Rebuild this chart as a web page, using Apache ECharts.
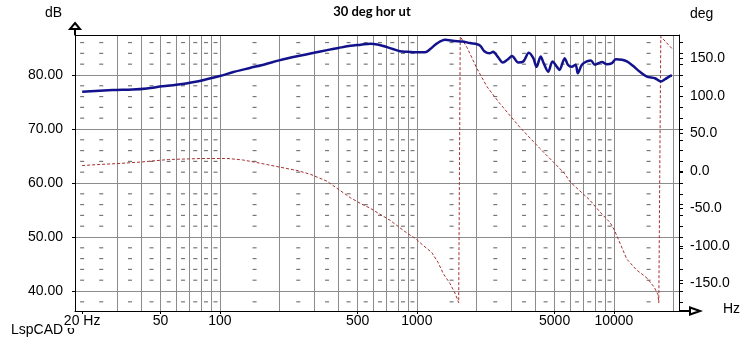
<!DOCTYPE html>
<html><head><meta charset="utf-8">
<script src="https://cdn.jsdelivr.net/npm/echarts@6/dist/echarts.min.js"></script>
<style>html,body{margin:0;padding:0;background:#fff}#c{width:751px;height:346px}</style>
</head><body><div id="c"></div>
<script>
// ---- data ----
const splFreq = [20,28.6,36,42.6,51,63,79,100,116,142,170,200,250,300,350,400,460,520,580,640,700,755,820,900,1000,1100,1170,1260,1390,1550,1700,1860,2020,2100,2200,2340,2440,2570,2730,2900,3040,3270,3470,3700,3900,4050,4250,4400,4640,4880,5140,5290,5630,5840,6100,6390,6560,6880,7290,7640,8010,8690,9210,9770,10240,10990,11640,12480,13550,14710,16150,17320,18160,19240,19700];
const splDb   = [76.9,77.2,77.3,77.5,77.9,78.3,78.9,79.8,80.5,81.3,82.0,82.7,83.5,84.1,84.6,85.0,85.4,85.6,85.8,85.6,85.2,84.8,84.4,84.3,84.2,84.2,84.8,85.8,86.5,86.3,86.2,85.9,85.7,85.4,84.4,84.0,84.3,83.4,82.3,82.9,83.5,82.3,82.5,84.1,83.1,81.5,83.4,82.2,80.6,82.5,81.5,80.9,83.1,81.9,81.5,81.9,80.3,81.9,82.5,82.7,81.9,82.4,82.0,82.2,82.9,82.8,82.5,81.7,80.6,79.7,79.4,78.8,79.2,79.8,79.9];
const phaseFreq = [20,25,30,40,55,80,110,130,150,200,250,290,350,406,460,520,580,650,730,820,900,980,1070,1190,1280,1360,1470,1560,1630,1660,1800,2020,2270,2630,2960,3330,4200,5000,5630,6000,7540,8500,9560,10050,11640,13000,14710,16000,16730,16900,17300,17600,19700];
const phaseDeg  = [7,8.5,9.5,11.7,15,16.3,16.3,14.5,11.5,5,0,-5,-14,-26,-36,-44,-50,-58,-66,-76,-84,-90,-99,-109,-122,-137,-150,-163,-176,179,164,136,112,90,74,58,30,10,-4,-15,-39,-55,-69,-79,-118,-132,-143,-155,-165,-176,179,177,163];
const dbTicks = [40,50,60,70,80];
const degTicks = [-150,-100,-50,0,50,100,150];
const freqLabels = [20,50,100,500,1000,5000,10000];
const freqGrid = [30,40,50,60,70,80,90,100,200,300,400,500,600,700,800,900,1000,2000,3000,4000,5000,6000,7000,8000,9000,10000,20000];
const freqMinor = [20,25,35,45,55,65,75,85,95,150,250,350,450,550,650,750,850,950,1500,2500,3500,4500,5500,6500,7500,8500,9500,15000];
const dbMinor = [38,42,44,46,48,52,54,56,58,62,64,66,68,72,74,76,78,82,84,86];
const dbRightTicks = [38,40,42,44,46,48,50,52,54,56,58,60,62,64,66,68,70,72,74,76,78,80,82,84,86];

const F_MIN = 18.4, F_MAX = 21400, DB_MIN = 36.3, DB_MAX = 87.4, DEG_MIN = -187, DEG_MAX = 181;

const lg = Math.log10;
const splData = splFreq.map((f, i) => [f, splDb[i]]);
const phaseData = phaseFreq.map((f, i) => [f, phaseDeg[i]]);
const minorData = [];
freqMinor.forEach(f => dbMinor.forEach(d => minorData.push([f, d])));

const gridColor = '#8c8c8c';
const font = 'Liberation Sans';

const chart = echarts.init(document.getElementById('c'), null, {renderer: 'canvas'});
chart.setOption({
  animation: false,
  backgroundColor: '#fff',
  grid: {left: 75, right: 72, top: 35, bottom: 35, containLabel: false, outerBoundsMode: 'none'},
  xAxis: [
    {type: 'log', logBase: 10, min: F_MIN, max: F_MAX, show: false, position: 'bottom'},
    {type: 'value', min: lg(F_MIN), max: lg(F_MAX), position: 'top',
      axisLine: {show: true, onZero: false, lineStyle: {color: '#000', width: 1}},
      axisTick: {show: false, customValues: freqGrid.map(lg)},
      axisLabel: {show: false},
      splitLine: {show: true, lineStyle: {color: gridColor, width: 1}}},
    {type: 'value', min: lg(F_MIN), max: lg(F_MAX), position: 'bottom', z: 10,
      axisLine: {show: true, onZero: false,
        symbol: ['none', 'emptyPath://M0,0 L3.5,10 L-3.5,10 Z M0,10 L0,21'],
        symbolSize: [7, 21], symbolOffset: [0, 10.5],
        lineStyle: {color: '#000', width: 1}},
      axisTick: {show: true, length: 3, customValues: freqLabels.map(lg), lineStyle: {color: '#000'}},
      axisLabel: {customValues: freqLabels.map(lg), margin: 3, color: '#000', fontSize: 14, fontFamily: font,
        backgroundColor: '#fff',
        formatter: v => { const f = Math.round(Math.pow(10, v)); return f === 20 ? '20 Hz' : String(f); }},
      splitLine: {show: false}}
  ],
  yAxis: [
    {type: 'value', min: DB_MIN, max: DB_MAX, position: 'left',
      axisLine: {show: true, onZero: false,
        symbol: ['none', 'emptyPath://M0,0 L5,6 L-5,6 Z M0,6 L0,12'],
        symbolSize: [10, 12], symbolOffset: [0, 6],
        lineStyle: {color: '#000', width: 1}},
      axisTick: {show: true, length: 3, customValues: dbTicks, lineStyle: {color: '#000'}},
      axisLabel: {customValues: dbTicks, margin: 12, color: '#000', fontSize: 14, fontFamily: font,
        formatter: v => v.toFixed(2)},
      splitLine: {show: true, lineStyle: {color: gridColor, width: 1}}},
    {type: 'value', min: DEG_MIN, max: DEG_MAX, position: 'right',
      axisLine: {show: true, onZero: false, lineStyle: {color: '#000', width: 1}},
      axisTick: {show: true, length: 4, customValues: degTicks, lineStyle: {color: '#000'}},
      axisLabel: {customValues: degTicks, margin: 11, color: '#000', fontSize: 14, fontFamily: font,
        formatter: v => v.toFixed(1)},
      splitLine: {show: false}},
    {type: 'value', min: DB_MIN, max: DB_MAX, position: 'right',
      axisLine: {show: false},
      axisTick: {show: true, length: 4, customValues: dbRightTicks, lineStyle: {color: '#000'}},
      axisLabel: {show: false},
      splitLine: {show: false}}
  ],
  graphic: [
    {type: 'text', x: 372, y: 12, z: 1, style: {text: '30 deg hor ut', align: 'center', verticalAlign: 'middle', font: 'bold 13px Lato', fill: '#000'}},
    {type: 'text', x: 45, y: 13, z: 1, style: {text: 'dB', align: 'left', verticalAlign: 'middle', font: '14px "Liberation Sans"', fill: '#000'}},
    {type: 'text', x: 690, y: 14, z: 1, style: {text: 'deg', align: 'left', verticalAlign: 'middle', font: '14px "Liberation Sans"', fill: '#000'}},
    {type: 'text', x: 723, y: 309, z: 1, style: {text: 'Hz', align: 'left', verticalAlign: 'middle', font: '14px "Liberation Sans"', fill: '#000'}},
    {type: 'text', x: 11, y: 330, z: 0, style: {text: 'LspCAD 6', align: 'left', verticalAlign: 'middle', font: '14px "Liberation Sans"', fill: '#000'}}
  ],
  series: [
    {type: 'scatter', xAxisIndex: 0, yAxisIndex: 0, data: minorData, symbol: 'rect', symbolSize: [4, 1.2],
      itemStyle: {color: '#555'}, silent: true, z: 1},
    {type: 'line', xAxisIndex: 0, yAxisIndex: 1, data: phaseData, showSymbol: false, smooth: false,
      lineStyle: {color: '#a83030', width: 1, type: [3, 2]}, silent: true, z: 3},
    {type: 'line', xAxisIndex: 0, yAxisIndex: 0, data: splData, showSymbol: false, smooth: 0.3,
      lineStyle: {color: '#12128c', width: 2.5}, silent: true, z: 4}
  ]
});
</script>
</body></html>
